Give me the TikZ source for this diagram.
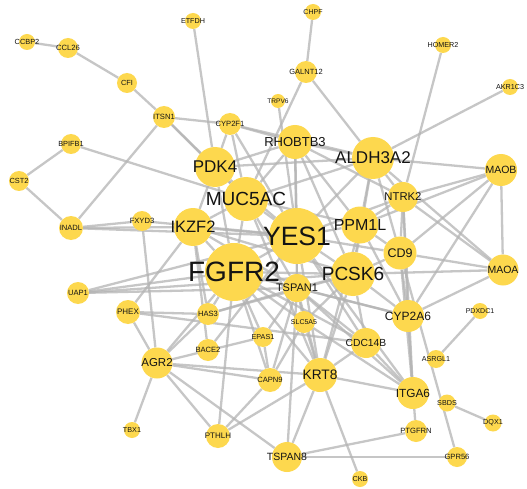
\documentclass[tikz,border=0pt]{standalone}
\usepackage{fontspec}
\setmainfont{Liberation Sans}
\usetikzlibrary{backgrounds}
\definecolor{nodeyellow}{RGB}{253,216,78}
\definecolor{edgegray}{RGB}{180,180,180}
\definecolor{labelc}{RGB}{20,20,20}
\tikzset{
  gnode/.style={circle, fill=nodeyellow, draw=none, inner sep=0pt},
  glabel/.style={text=labelc, inner sep=0pt},
  gedge/.style={draw=edgegray, line width=2.3pt, opacity=0.75},
}
\newcommand{\GN}[6]{\node[gnode, minimum size=#4pt, label={[glabel, font={\fontsize{#5}{#5}\selectfont}]center:#6}] (#1) at (#2,#3) {};}
\begin{document}
\begin{tikzpicture}[x=1pt,y=-1pt]
\useasboundingbox (0,0) rectangle (527,489);
\GN{CCBP2}{27}{42}{16}{7.4}{CCBP2}
\GN{CCL26}{68}{48}{20}{7.6}{CCL26}
\GN{ETFDH}{193}{21}{16}{7.2}{ETFDH}
\GN{CFI}{127}{83}{20}{7.4}{CFI}
\GN{CHPF}{313}{12}{16}{7}{CHPF}
\GN{GALNT12}{306}{72}{22}{7.5}{GALNT12}
\GN{HOMER2}{443}{45}{16}{7.2}{HOMER2}
\GN{TRPV6}{278}{101}{14}{6.6}{TRPV6}
\GN{AKR1C3}{510}{87}{16}{7.2}{AKR1C3}
\GN{ITSN1}{164}{117}{22}{7.6}{ITSN1}
\GN{CYP2F1}{230}{124}{22}{7.6}{CYP2F1}
\GN{RHOBTB3}{295}{142}{34}{13}{RHOBTB3}
\GN{ALDH3A2}{373}{158}{42}{17}{ALDH3A2}
\GN{MAOB}{501}{170}{32}{10.5}{MAOB}
\GN{BPIFB1}{71}{144}{20}{7.4}{BPIFB1}
\GN{PDK4}{215}{167}{40}{17}{PDK4}
\GN{NTRK2}{403}{197}{30}{11.3}{NTRK2}
\GN{CST2}{19}{181}{20}{7.4}{CST2}
\GN{MUC5AC}{246}{199}{44}{19}{MUC5AC}
\GN{PPM1L}{360}{225}{37}{16}{PPM1L}
\GN{YES1}{297}{236}{56}{26.5}{YES1}
\GN{IKZF2}{193}{227}{38}{16.5}{IKZF2}
\GN{FXYD3}{142}{221}{20}{7.6}{FXYD3}
\GN{INADL}{71}{228}{24}{7.6}{INADL}
\GN{CD9}{400}{253}{33}{12.5}{CD9}
\GN{FGFR2}{234}{272}{58}{28}{FGFR2}
\GN{MAOA}{503}{270}{31}{10.5}{MAOA}
\GN{PCSK6}{353}{274}{44}{19}{PCSK6}
\GN{TSPAN1}{297}{288}{28}{11}{TSPAN1}
\GN{UAP1}{78}{293}{22}{7.6}{UAP1}
\GN{PHEX}{128}{312}{24}{8}{PHEX}
\GN{HAS3}{208}{314}{22}{7.6}{HAS3}
\GN{EPAS1}{263}{337}{20}{7.2}{EPAS1}
\GN{SLC5A5}{304}{322}{22}{7}{SLC5A5}
\GN{CYP2A6}{408}{316}{32}{12}{CYP2A6}
\GN{PDXDC1}{480}{311}{16}{7}{PDXDC1}
\GN{BACE2}{208}{350}{22}{7.6}{BACE2}
\GN{AGR2}{157}{363}{31}{11.5}{AGR2}
\GN{CDC14B}{366}{343}{30}{10.3}{CDC14B}
\GN{ASRGL1}{436}{359}{18}{7.2}{ASRGL1}
\GN{CAPN9}{270}{380}{24}{7.6}{CAPN9}
\GN{KRT8}{320}{375}{34}{13.7}{KRT8}
\GN{ITGA6}{413}{393}{32}{11.8}{ITGA6}
\GN{SBDS}{447}{403}{17}{7.2}{SBDS}
\GN{DQX1}{493}{423}{17}{7.2}{DQX1}
\GN{TBX1}{132}{430}{16}{7.2}{TBX1}
\GN{PTHLH}{218}{436}{24}{8}{PTHLH}
\GN{PTGFRN}{416}{431}{22}{7.6}{PTGFRN}
\GN{TSPAN8}{287}{457}{30}{10.5}{TSPAN8}
\GN{GPR56}{457}{457}{20}{7.6}{GPR56}
\GN{CKB}{360}{479}{16}{7.2}{CKB}
\begin{pgfonlayer}{background}
\fill[white] (0,0) rectangle (527,489);
\foreach \a/\b in {
CCBP2/CCL26, CCL26/CFI, CFI/ITSN1, ETFDH/PDK4, CHPF/GALNT12, GALNT12/ALDH3A2, GALNT12/MUC5AC,
TRPV6/YES1, HOMER2/NTRK2, AKR1C3/ALDH3A2, ITSN1/CYP2F1, CYP2F1/RHOBTB3, ITSN1/PDK4, ITSN1/MUC5AC,
ITSN1/INADL, BPIFB1/CST2, CST2/INADL, BPIFB1/MUC5AC, INADL/FXYD3, INADL/IKZF2, INADL/YES1,
FXYD3/AGR2, FXYD3/YES1, UAP1/FGFR2, UAP1/YES1, UAP1/PCSK6, UAP1/TSPAN1,
PHEX/AGR2, PHEX/HAS3, PHEX/IKZF2, PHEX/CDC14B,
AGR2/TBX1, AGR2/PTHLH, AGR2/CAPN9, AGR2/KRT8, AGR2/FGFR2, AGR2/TSPAN8, AGR2/HAS3, AGR2/EPAS1,
PTHLH/CAPN9, PTHLH/FGFR2, PTHLH/KRT8,
TSPAN8/PTGFRN, TSPAN8/GPR56, TSPAN8/TSPAN1, TSPAN8/KRT8, KRT8/CKB,
ITGA6/PTGFRN, ITGA6/CD9, ITGA6/KRT8, ITGA6/CDC14B, ITGA6/TSPAN1, ITGA6/YES1, ITGA6/SLC5A5,
GPR56/CD9, SBDS/DQX1, PDXDC1/ASRGL1,
MAOA/CYP2A6, MAOA/PCSK6, MAOA/NTRK2, MAOA/MAOB, MAOA/ALDH3A2,
MAOB/ALDH3A2, MAOB/NTRK2, MAOB/PPM1L, MAOB/CD9, MAOB/CYP2A6,
ALDH3A2/RHOBTB3, ALDH3A2/NTRK2, ALDH3A2/PPM1L, ALDH3A2/YES1, ALDH3A2/PDK4, ALDH3A2/MUC5AC,
ALDH3A2/CD9, ALDH3A2/PCSK6,
NTRK2/PPM1L, NTRK2/CYP2A6, NTRK2/CD9, NTRK2/ITGA6, NTRK2/YES1,
RHOBTB3/PDK4, RHOBTB3/MUC5AC, RHOBTB3/YES1, RHOBTB3/PPM1L, RHOBTB3/PCSK6, RHOBTB3/NTRK2, RHOBTB3/TSPAN1,
CYP2F1/PDK4, CYP2F1/MUC5AC, CYP2F1/YES1, CYP2F1/ALDH3A2,
PDK4/MUC5AC, PDK4/YES1, PDK4/IKZF2, PDK4/FGFR2,
MUC5AC/YES1, MUC5AC/IKZF2, MUC5AC/FGFR2, MUC5AC/PPM1L, MUC5AC/TSPAN1,
YES1/FGFR2, YES1/PPM1L, YES1/PCSK6, YES1/TSPAN1, YES1/CD9, YES1/IKZF2, YES1/CDC14B, YES1/KRT8,
FGFR2/IKZF2, FGFR2/PCSK6, FGFR2/TSPAN1, FGFR2/HAS3, FGFR2/EPAS1, FGFR2/SLC5A5, FGFR2/KRT8,
FGFR2/CAPN9, FGFR2/CDC14B, FGFR2/CYP2A6,
PCSK6/PPM1L, PCSK6/CD9, PCSK6/CYP2A6, PCSK6/TSPAN1, PCSK6/CDC14B, PCSK6/KRT8, PCSK6/SLC5A5,
PPM1L/CD9, PPM1L/CYP2A6, PPM1L/KRT8, CD9/CYP2A6, CD9/MAOA, CYP2A6/ITGA6, CYP2A6/TSPAN1,
CDC14B/TSPAN1, CDC14B/KRT8, SLC5A5/TSPAN1, SLC5A5/KRT8, SLC5A5/CAPN9,
EPAS1/CAPN9, EPAS1/TSPAN1, HAS3/TSPAN1, HAS3/PCSK6, BACE2/YES1, CAPN9/TSPAN1, KRT8/TSPAN1,
IKZF2/HAS3, IKZF2/PCSK6, IKZF2/TSPAN1, IKZF2/BACE2, KRT8/MUC5AC}
  \draw[gedge] (\a) -- (\b);
\end{pgfonlayer}
\end{tikzpicture}
\end{document}
